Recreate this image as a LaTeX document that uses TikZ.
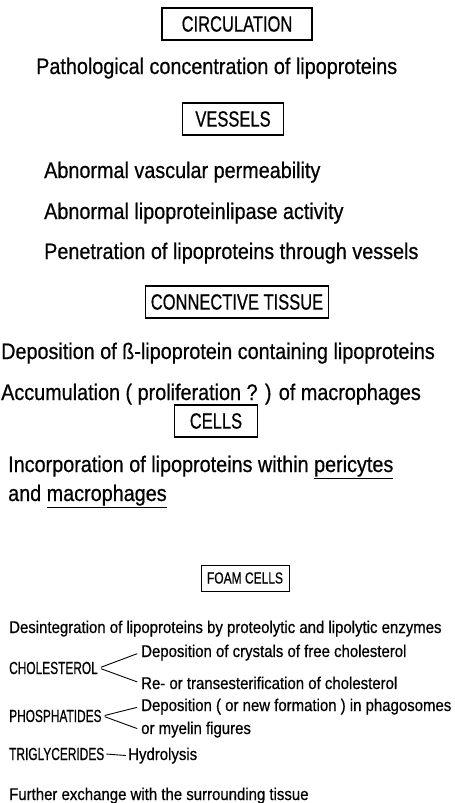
\documentclass[tikz,border=0pt]{standalone}
\usepackage{fontspec}
\setmainfont[FakeStretch=0.88, FakeBold=0.6]{Liberation Sans}
\newfontfamily\capsfont[FakeStretch=0.75, FakeBold=0.6]{Liberation Sans}
\newfontfamily\lipidfont[FakeStretch=0.68, FakeBold=0.6]{Liberation Sans}
\usetikzlibrary{positioning}

\begin{document}
\begin{tikzpicture}[x=1pt, y=-1pt,
    stage/.style={draw, line width=1.1pt, font=\capsfont\fontsize{22}{25}\selectfont,
                  minimum height=32pt, inner xsep=4pt},
    smallstage/.style={draw, line width=1pt, font=\capsfont\fontsize{16}{18}\selectfont,
                       minimum height=26pt, inner xsep=5pt},
    big/.style={anchor=base west, inner sep=0pt, font=\fontsize{22.5}{26}\selectfont},
    small/.style={anchor=base west, inner sep=1pt, font=\fontsize{17}{20}\selectfont},
    lipid/.style={anchor=base west, inner sep=1pt, font=\lipidfont\fontsize{17.5}{20}\selectfont},
    branch/.style={line width=0.9pt, shorten <=2pt, shorten >=3pt}
]
\useasboundingbox (0,0) rectangle (455,803);

% circulation and vessels
\node[stage, minimum width=150pt] (circ) at (237,24) {CIRCULATION};
\node[big] (conc) at (36,74) {Pathological concentration of lipoproteins};
\node[stage, minimum width=101pt] (vess) at (233,119) {VESSELS};
\node[big] (perm) at (44,178) {Abnormal vascular permeability};
\node[big] (lpl)  at (44,219) {Abnormal lipoproteinlipase activity};
\node[big] (pene) at (44,259) {Penetration of lipoproteins through vessels};

% connective tissue and cells
\node[stage, minimum width=183pt] (conn) at (237,302) {CONNECTIVE TISSUE};
\node[big] (depo) at (1,359) {Deposition of ß-lipoprotein containing lipoproteins};
\node[big] (accu) at (1,400) {Accumulation ( proliferation ? ) of macrophages};
\node[stage, minimum width=83pt] (cell) at (216,421) {CELLS};
\node[big] (inc1) at (8,472) {Incorporation of lipoproteins within \underline{pericytes}};
\node[big] (inc2) at (8,501) {and \underline{macrophages}};

% foam cells
\node[smallstage, minimum width=88pt] (foam) at (245,578) {FOAM CELLS};
\node[small] (desi) at (8,633) {Desintegration of lipoproteins by proteolytic and lipolytic enzymes};
\node[lipid] (chol)  at (8,674)   {CHOLESTEROL};
\node[small] (chol1) at (140,657) {Deposition of crystals of free cholesterol};
\node[small] (chol2) at (140,689) {Re- or transesterification of cholesterol};
\node[lipid] (phos)  at (8,722)   {PHOSPHATIDES};
\node[small] (phos1) at (140,711) {Deposition ( or new formation ) in phagosomes};
\node[small] (phos2) at (140,734) {or myelin figures};
\node[lipid] (trig)  at (8,760)   {TRIGLYCERIDES};
\node[small] (hydr)  at (127,760) {Hydrolysis};
\node[small] (furt)  at (8,800)   {Further exchange with the surrounding tissue};

\draw[branch] (chol.east) -- (chol1.west);
\draw[branch] (chol.east) -- (chol2.west);
\draw[branch] (phos.east) -- (phos1.west);
\draw[branch] (phos.east) -- (phos2.west);
\draw[branch, shorten <=1pt, shorten >=1pt] (trig.east) -- (hydr.west);
\end{tikzpicture}
\end{document}
